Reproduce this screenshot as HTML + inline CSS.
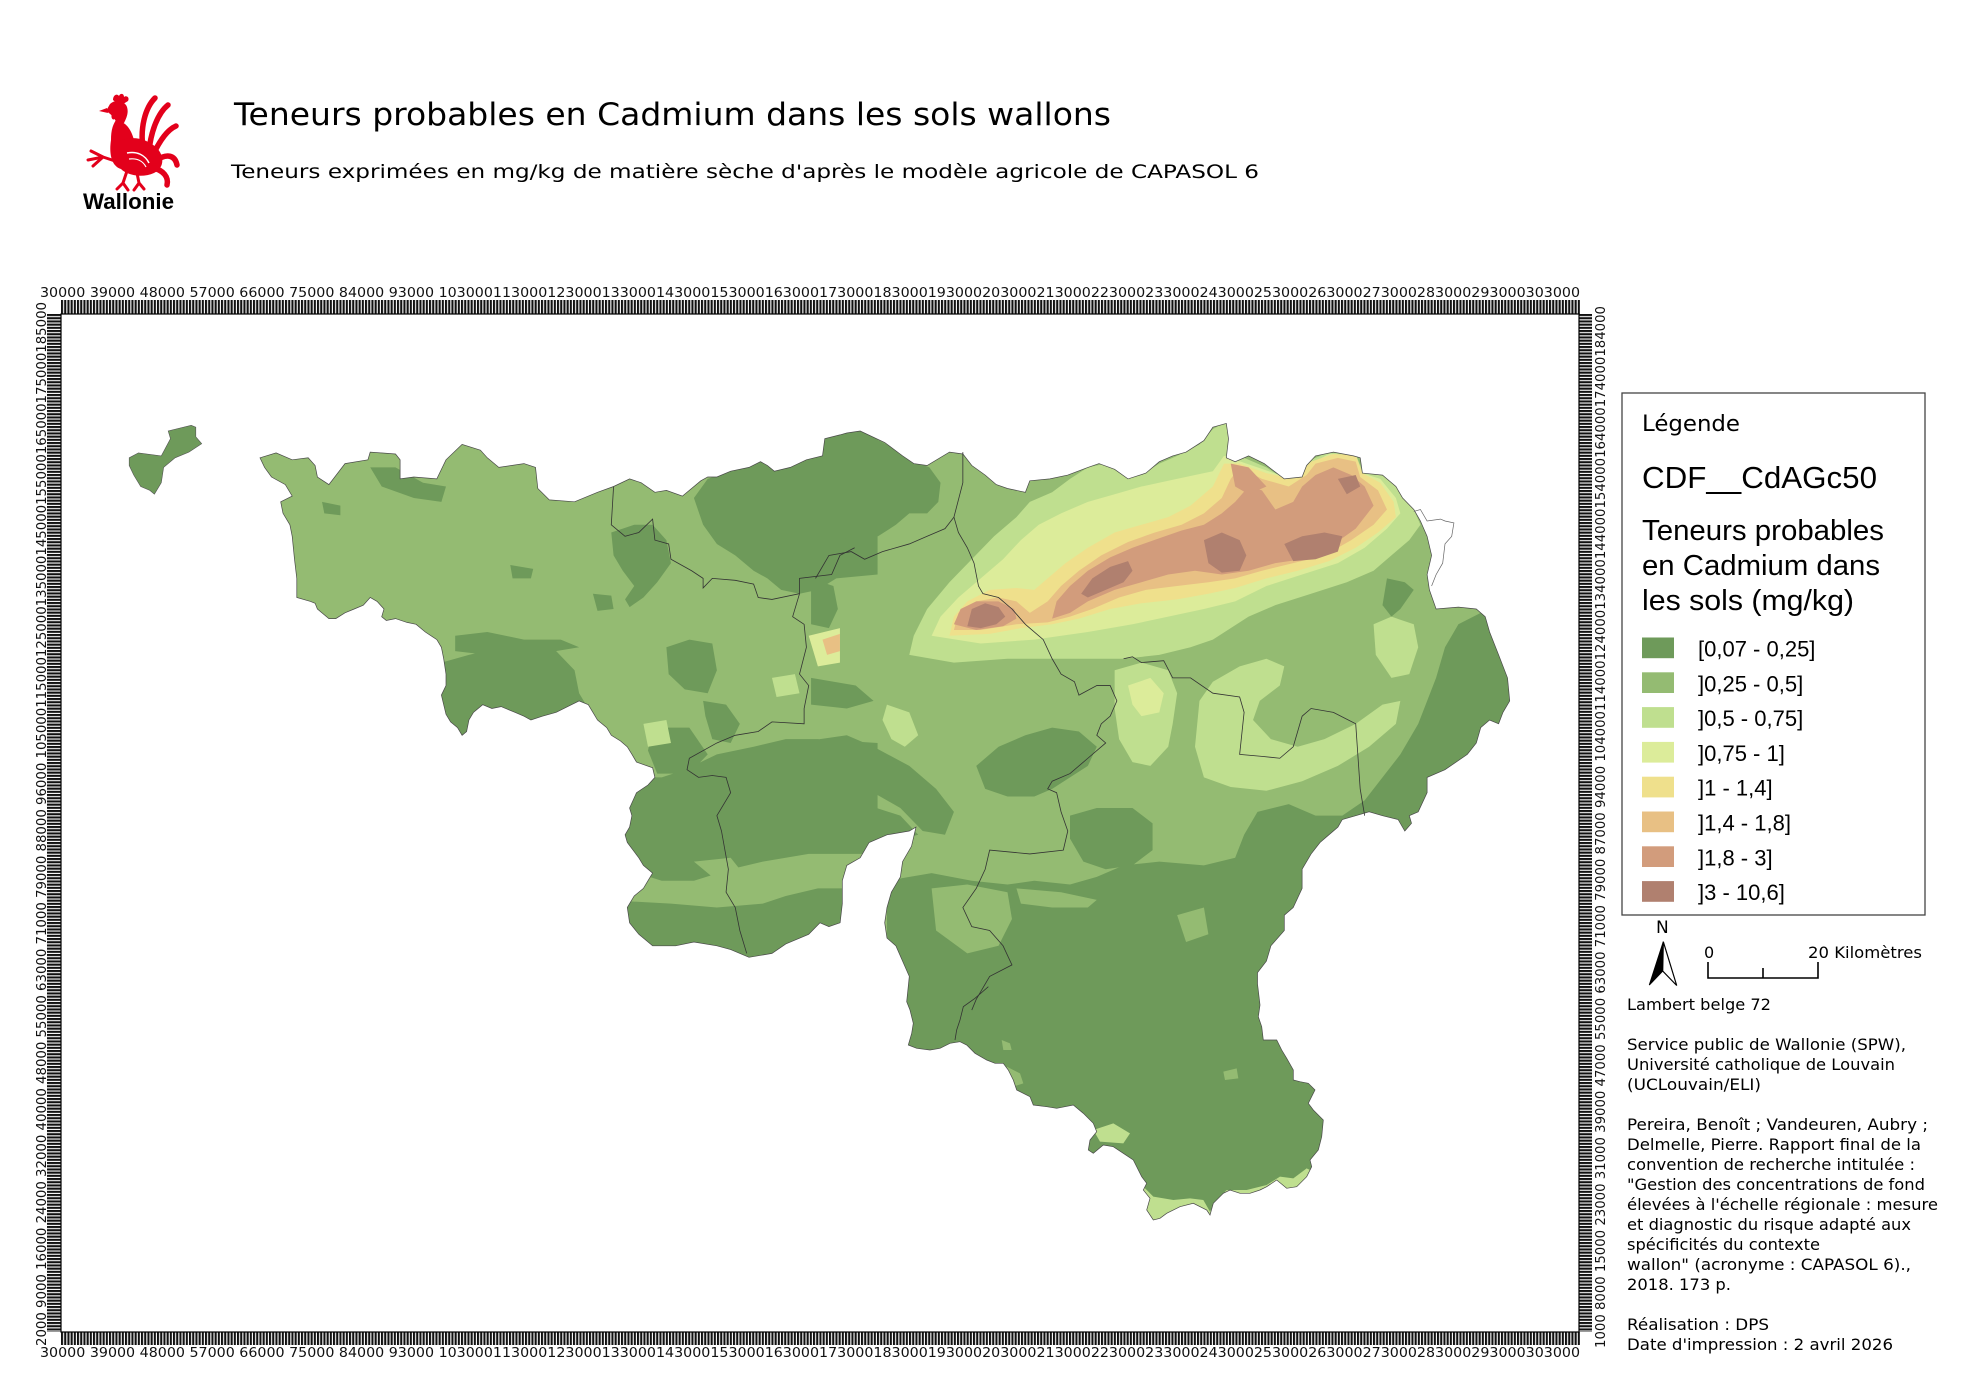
<!DOCTYPE html>
<html><head><meta charset="utf-8"><style>
html,body{margin:0;padding:0;background:#fff;}
svg{display:block;}
.dv{font-family:"DejaVu Sans","Liberation Sans",sans-serif;}
.ls{font-family:"Liberation Sans",sans-serif;}
</style></head><body>
<svg width="1980" height="1400" viewBox="0 0 1980 1400" xmlns="http://www.w3.org/2000/svg">
<defs>
<pattern id="th" x="61" y="0" width="3.2" height="20" patternUnits="userSpaceOnUse"><rect x="0" y="0" width="2.1" height="20" fill="#111"/></pattern>
<pattern id="tv" x="0" y="314" width="20" height="3.2" patternUnits="userSpaceOnUse"><rect x="0" y="0" width="20" height="2.1" fill="#111"/></pattern>
<clipPath id="wal"><path id="walp" d="M260.0,457.8 L276.1,452.9 292.2,459.8 308.2,457.8 315.1,465.5 317.4,477.0 328.9,484.6 345.0,463.6 367.9,459.8 370.2,452.1 395.5,454.0 400.1,459.8 400.1,478.9 413.9,477.0 436.8,478.9 446.0,459.8 462.1,444.4 480.4,450.2 487.3,457.8 498.8,467.4 524.0,463.6 535.5,467.4 537.8,488.5 549.3,499.9 574.5,501.8 597.5,492.3 613.6,486.5 629.6,478.9 641.1,482.7 654.9,492.3 666.4,490.4 682.4,496.1 700.8,480.8 707.7,477.0 716.9,477.0 730.7,471.2 749.0,467.4 760.5,461.7 767.4,465.5 774.3,471.2 790.3,467.4 806.4,459.8 822.5,455.9 824.8,438.7 839.9,434.9 846.8,433.0 860.2,431.0 884.7,442.5 902.6,455.9 913.8,463.6 927.1,465.5 949.5,452.1 962.9,454.0 971.8,465.5 985.2,475.1 996.3,484.6 1007.5,488.5 1025.4,492.3 1029.8,480.8 1049.9,478.9 1067.8,475.1 1087.9,467.4 1099.0,463.6 1114.6,469.3 1128.0,478.9 1145.9,473.1 1159.3,461.7 1172.7,455.9 1186.1,452.1 1203.9,440.6 1212.9,427.2 1226.3,423.4 1228.5,438.7 1226.3,457.8 1235.2,461.7 1248.6,455.9 1264.2,463.6 1284.3,478.9 1302.1,477.0 1306.6,465.5 1315.5,455.9 1333.4,452.1 1353.5,455.9 1360.2,457.8 1362.4,473.1 1382.5,475.1 1395.9,486.5 1402.6,498.0 1413.8,509.5 1420.4,521.0 1427.1,536.3 1431.6,555.4 1427.1,574.6 1429.4,589.9 1436.1,609.0 1458.4,607.1 1476.3,609.0 1485.2,616.7 1489.6,632.0 1498.6,654.9 1507.5,677.9 1509.7,700.9 1503.0,712.3 1498.6,723.8 1489.6,720.0 1480.7,727.6 1476.3,743.0 1467.3,754.4 1445.0,769.7 1427.1,777.4 1427.1,792.7 1418.2,811.8 1409.3,815.7 1411.5,823.3 1404.8,831.0 1398.1,819.5 1382.5,815.7 1369.1,811.8 1355.7,815.7 1342.3,819.5 1337.9,827.1 1328.9,834.8 1320.0,842.5 1311.1,853.9 1302.1,869.2 1302.1,888.4 1293.2,907.5 1284.3,915.2 1284.3,930.5 1270.9,945.8 1266.4,961.1 1257.5,972.6 1257.5,984.0 1260,1005 1258.3,1016.7 1261.7,1026.7 1263.3,1040 1276.7,1040 1281.7,1050 1286.7,1058.3 1293.3,1070 1293.3,1080 1300,1081.7 1308.3,1083.3 1315,1090 1313.3,1093.3 1308.3,1103.3 1313.3,1110 1320,1116.7 1323.3,1120 1321.7,1136.7 1318.3,1150 1310,1160 1311.7,1166.7 1306.7,1176.7 1296.7,1186.7 1286.7,1188.3 1276.7,1180 1266.7,1186.7 1260,1190 1250,1193.3 1240,1193.3 1230,1190 1223.3,1193.3 1213.3,1203.3 1210,1215 1206.7,1210 1193.3,1203.3 1180,1206.7 1166.7,1213.3 1160,1218.3 1153.3,1220 1146.7,1210 1150,1198.3 1143.3,1190 1146.7,1183.3 1141.7,1176.7 1133.3,1160 1123.3,1153.3 1113.3,1146.7 1103.3,1145 1093.3,1153.3 1088.3,1150 1090,1140 1096.7,1131.7 1093.3,1123.3 1083.3,1113.3 1073.3,1105 1056.7,1108.3 1046.7,1106.7 1033.3,1105 1030,1096.7 1023.3,1093.3 1016.7,1090 1013.3,1080 1008.3,1070 1003.3,1063.3 995,1063.3 986.7,1060 975,1053.3 966.7,1045 960,1041.7 950,1043.3 940,1048.3 930,1050 916.7,1048.3 908.3,1045 911.7,1033.3 913.3,1023.3 910,1010 906.7,1001.7 909.3,976.4 902.6,961.1 895.9,945.8 887.0,938.1 884.7,922.8 887.0,907.5 891.4,892.2 900.4,876.9 902.6,861.6 911.5,846.3 916.0,827.1 909.3,831.0 887.0,834.8 869.1,842.5 860.2,857.8 846.8,865.4 842.3,880.7 842.3,903.7 840.1,922.8 828.9,926.6 820,922.8 808.7,934.3 785.8,943.9 772.0,953.4 749.0,957.3 730.7,949.6 716.9,945.8 693.9,942.0 675.6,945.8 652.6,945.8 638.8,934.3 629.6,922.8 627.3,907.5 634.2,896.0 643.4,888.4 648.0,880.7 652.6,873.1 643.4,865.4 638.8,857.8 627.3,842.5 625.1,834.8 629.6,827.1 631.9,815.7 629.6,808.0 636.5,792.7 648.0,785.0 654.9,777.4 652.6,767.8 636.5,762.1 632.0,754.4 627.3,746.8 620.5,741.0 611.3,735.3 606.7,727.6 597.5,720.0 592.9,712.3 588.3,704.7 579.1,700.9 567.7,706.6 556.2,712.3 542.4,716.2 530.9,720.0 524.0,716.2 514.9,712.3 501.1,706.6 491.9,708.5 482.7,704.7 473.5,712.3 468.9,720.0 466.6,731.5 462.1,735.3 457.5,727.6 450.6,721.9 446.0,714.3 443.7,704.7 441.4,695.1 446.0,685.5 446.0,674.1 443.7,658.8 441.4,647.3 436.8,639.6 425.3,632.0 416.1,624.3 407.0,622.4 395.5,618.6 386.3,620.5 381.7,616.7 384.0,609.0 377.1,601.4 370.2,597.5 363.3,605.2 354.2,609.0 345.0,612.8 335.8,618.6 328.9,618.6 317.4,609.0 315.1,603.3 310.5,601.4 296.8,597.5 296.8,578.4 294.5,559.2 292.2,536.3 289.9,524.8 283.0,513.3 280.7,501.8 292.2,496.1 285.3,484.6 271.5,477.0 264.6,467.4 Z"/></clipPath>
</defs>

<rect width="1980" height="1400" fill="#fff"/>

<!-- Logo -->
<g transform="translate(83,93)" fill="#e3001b" stroke="none">
  <path d="M30,7 C30,2 34,0 36,3 C37,0 41,0 41,4 C43,2 47,4 45,8 L37,13 Z"/>
  <path d="M27,11 C32,6 42,8 44,14 C46,20 43,26 41,30 L34,31 C32,25 28,21 23,18 Z"/>
  <path d="M24,15 L16,18 L25,20 Z"/>
  <path d="M29,20 C27,26 31,29 33,24 Z"/>
  <path d="M33,27 C45,29 50,40 52,52 C54,63 47,73 38,76 C28,73 26,60 28,47 C28,39 29,33 33,27 Z"/>
  <path d="M36,48 C50,42 64,46 74,55 C82,64 81,75 71,80 C60,85 45,83 38,76 Z"/>
  <g fill="none" stroke="#e3001b" stroke-width="5.5" stroke-linecap="round">
    <path d="M60,56 C57,35 62,15 72,5"/>
    <path d="M66,58 C68,38 75,20 85,12"/>
    <path d="M70,62 C78,45 86,36 93,33"/>
    <path d="M72,68 C84,60 92,62 94,72"/>
    <path d="M70,75 C80,77 86,84 84,92"/>
  </g>
  <g fill="none" stroke="#e3001b" stroke-width="3" stroke-linecap="round">
    <path d="M44,78 L40,90 L34,96 M40,90 L45,97"/>
    <path d="M54,80 L56,90 L51,97 M56,90 L61,96"/>
    <path d="M38,70 L20,64 L5,67 M20,64 L8,58 M20,64 L10,73"/>
  </g>
  <path d="M44,60 C54,58 62,62 66,70" fill="none" stroke="#fff" stroke-width="1.5"/>
  <path d="M46,66 C54,65 60,68 63,74" fill="none" stroke="#fff" stroke-width="1.2"/>
</g>
<text x="83" y="209" class="ls" font-weight="bold" font-size="22.5" textLength="91" lengthAdjust="spacingAndGlyphs" fill="#000">Wallonie</text>

<!-- Titles -->
<text x="234" y="125" class="dv" font-size="31" textLength="877" lengthAdjust="spacingAndGlyphs" fill="#000">Teneurs probables en Cadmium dans les sols wallons</text>
<text x="231" y="178" class="dv" font-size="19" textLength="1028" lengthAdjust="spacingAndGlyphs" fill="#000">Teneurs exprimées en mg/kg de matière sèche d'après le modèle agricole de CAPASOL 6</text>

<!-- Tick bands -->
<rect x="61" y="300" width="1519" height="14" fill="url(#th)"/>
<rect x="61" y="1332" width="1519" height="13" fill="url(#th)"/>
<rect x="47" y="314" width="14" height="1018" fill="url(#tv)"/>
<rect x="1579" y="314" width="13" height="1018" fill="url(#tv)"/>
<rect x="61" y="314" width="1518" height="1018" fill="#fff" stroke="#000" stroke-width="1.2"/>

<!-- Tick labels -->
<text x="40" y="297" class="dv" font-size="13.5" textLength="1540" lengthAdjust="spacingAndGlyphs" fill="#111">30000 39000 48000 57000 66000 75000 84000 93000 103000113000123000133000143000153000163000173000183000193000203000213000223000233000243000253000263000273000283000293000303000</text>
<text x="40" y="1357" class="dv" font-size="13.5" textLength="1540" lengthAdjust="spacingAndGlyphs" fill="#111">30000 39000 48000 57000 66000 75000 84000 93000 103000113000123000133000143000153000163000173000183000193000203000213000223000233000243000253000263000273000283000293000303000</text>
<text transform="translate(46,1346) rotate(-90)" x="0" y="0" class="dv" font-size="13.5" textLength="1044" lengthAdjust="spacingAndGlyphs" fill="#111">2000 9000 16000 24000 32000 40000 48000 55000 63000 71000 79000 88000 96000 105000115000125000135000145000155000165000175000185000</text>
<text transform="translate(1605,1348) rotate(-90)" x="0" y="0" class="dv" font-size="13.5" textLength="1042" lengthAdjust="spacingAndGlyphs" fill="#111">1000 8000 15000 23000 31000 39000 47000 55000 63000 71000 79000 87000 94000 104000114000124000134000144000154000164000174000184000</text>

<!-- Map -->
<path d="M129.2,457.8 L138.4,452.9 161.3,455.9 170.5,438.7 168.2,431.0 191.2,425.3 195.8,427.2 195.8,436.8 201.7,443.7 188.9,452.1 175.1,457.8 163.6,467.4 161.3,482.7 154.4,494.2 149.8,490.4 140.7,486.5 133.8,475.1 129.2,465.5 Z" fill="#6e9a5a" stroke="#555" stroke-width="0.6"/>

<g clip-path="url(#wal)">
  <rect x="250" y="410" width="1280" height="820" fill="#94bb72"/>
  <!-- zoom7 coordinate system -->
  <g transform="translate(120 410) scale(0.45914 0.38270)">
    <g fill="#6e9a5a">
      <polygon points="1250,230 1280,180 1330,160 1395,135 1460,150 1530,120 1568,60 1650,60 1650,430 1560,440 1520,470 1480,480 1440,470 1410,440 1380,420 1340,380 1300,350 1270,300"/>
      <polygon points="1070,320 1120,300 1160,300 1190,340 1200,400 1170,450 1140,490 1110,515 1100,495 1120,460 1095,420 1075,380"/>
      <polygon points="700,660 760,640 830,620 900,618 950,630 990,680 1000,740 1020,780 1040,830 1000,900 650,900"/>
      <polygon points="1190,620 1240,600 1290,610 1300,680 1280,740 1230,730 1195,690"/>
      <polygon points="1270,760 1320,770 1350,820 1330,870 1290,860 1275,800"/>
      <polygon points="1160,830 1240,830 1280,900 1240,950 1170,950 1150,890"/>
      <polygon points="1100,960 1180,960 1230,940 1300,900 1380,880 1450,860 1520,860 1650,870 1650,1160 1500,1160 1400,1180 1330,1200 1250,1230 1180,1230 1100,1200 1050,1100"/>
      <polygon points="1050,1280 1200,1290 1300,1300 1400,1290 1450,1270 1520,1250 1650,1250 1650,1500 1050,1500"/>
      <polygon points="1030,480 1070,485 1075,520 1040,525"/>
      <polygon points="545,150 600,150 660,190 710,200 700,240 640,230 570,200"/>
      <polygon points="440,240 480,250 480,275 445,270"/>
      <polygon points="850,405 900,415 895,440 855,440"/>
      <polygon points="730,590 800,580 880,600 960,600 1000,620 900,640 800,640 730,630"/>
    </g>
    <polygon points="1250,1180 1330,1170 1350,1200 1290,1220" fill="#94bb72"/>
    <polygon points="1500,590 1568,570 1568,660 1520,670" fill="#dcec9a"/>
    <polygon points="1530,600 1568,585 1568,630 1540,640" fill="#e8c084"/>
    <polygon points="1420,700 1470,690 1480,740 1430,750" fill="#bfdf8f"/>
    <polygon points="1140,820 1190,810 1200,870 1150,880" fill="#bfdf8f"/>
  </g>
  <!-- south dark (original coords) -->
  <polygon points="890,985 1340,985 1340,1240 890,1240" fill="#6e9a5a"/>
  <!-- zoom8 coordinate system -->
  <g transform="translate(820 410) scale(0.44643 0.38270)">
    <g fill="#6e9a5a">
      <polygon points="-60,60 90,55 150,90 200,130 245,150 270,190 265,240 240,270 200,270 170,300 130,330 80,330 40,340 -60,340"/>
      <polygon points="350,930 400,880 460,850 520,830 580,840 620,880 600,930 560,960 520,990 480,1010 420,1010 370,990"/>
      <polygon points="560,1060 620,1040 700,1040 745,1080 745,1150 700,1190 640,1200 590,1180 560,1120"/>
      <polygon points="150,1230 250,1210 340,1230 420,1240 480,1230 560,1240 620,1220 680,1190 760,1180 860,1190 930,1170 950,1110 980,1050 1050,1030 1110,1060 1170,1060 1220,1020 1260,960 1300,900 1340,820 1380,700 1400,620 1430,560 1480,530 1650,530 1650,1650 150,1650"/>
      <polygon points="0,860 60,850 120,880 200,930 260,990 300,1050 280,1110 230,1100 180,1040 120,1000 60,990 -20,990"/>
      <polygon points="-20,440 30,460 40,520 20,570 -20,560"/>
      <polygon points="1270,440 1310,450 1330,470 1300,520 1280,540 1260,510"/>
      <polygon points="-20,700 80,720 120,760 60,780 -20,770"/>
      <polygon points="-20,1040 100,1030 180,1060 220,1110 150,1130 60,1110 -20,1120"/>
    </g>
    <g fill="#94bb72">
      <polygon points="250,1250 330,1240 420,1260 430,1330 400,1400 330,1420 260,1360"/>
      <polygon points="440,1250 540,1260 620,1280 600,1300 520,1300 450,1290"/>
      <polygon points="800,1320 860,1300 870,1370 820,1390"/>
      <polygon points="1080,1200 1120,1190 1130,1240 1090,1250"/>
    </g>
    <g fill="#bfdf8f">
      <polygon points="200,640 210,590 240,520 290,450 340,390 390,330 440,280 470,240 520,215 560,180 600,150 640,140 680,170 720,170 760,140 800,120 850,90 880,50 910,30 920,80 915,125 950,125 1000,150 1040,180 1080,170 1100,130 1150,105 1200,115 1215,160 1260,170 1300,210 1330,260 1345,300 1320,340 1280,380 1240,420 1180,450 1100,480 1020,510 960,540 920,570 880,600 830,620 760,640 680,650 560,650 420,650 300,660"/>
      <polygon points="850,760 880,710 940,670 1000,650 1040,670 1030,720 985,760 970,810 1010,860 1070,880 1130,860 1200,820 1260,770 1300,760 1290,820 1230,880 1160,930 1080,970 1000,995 920,985 860,960 840,880"/>
      <polygon points="1240,560 1280,540 1330,560 1340,620 1320,690 1280,700 1245,640"/>
      <polygon points="660,680 720,660 780,680 800,740 790,820 780,880 740,930 700,920 670,860 660,780"/>
      <polygon points="150,770 200,790 220,850 190,880 160,860 140,810"/>
    </g>
    <polygon fill="#dcec9a" points="250,590 270,540 310,490 360,440 410,390 450,340 490,300 540,270 600,240 660,220 720,200 780,185 840,170 880,160 905,120 930,130 980,150 1030,170 1070,175 1100,140 1140,115 1200,118 1215,165 1255,180 1290,230 1300,270 1270,310 1220,360 1160,400 1080,430 1000,460 930,500 860,520 780,540 700,560 600,580 480,600 360,610"/>
    <polygon fill="#dcec9a" points="690,720 740,700 770,740 760,790 720,800 700,770"/>
    <polygon fill="#efe08c" points="290,590 300,540 330,500 380,470 440,465 480,470 510,440 550,400 600,360 660,320 720,300 780,280 830,250 880,200 905,140 940,140 1000,165 1060,180 1100,135 1150,115 1200,118 1215,165 1255,190 1285,240 1290,280 1250,320 1200,360 1140,395 1070,420 1000,440 930,465 870,480 800,495 720,505 650,520 580,545 520,560 450,570 380,585"/>
    <polygon fill="#e8c084" points="300,575 310,530 350,500 400,490 440,500 470,530 510,500 540,460 580,420 630,380 690,345 750,320 810,300 860,270 900,230 920,180 940,150 990,180 1050,200 1090,170 1110,140 1160,125 1200,135 1210,175 1250,210 1270,260 1240,300 1190,340 1130,380 1060,400 990,420 930,440 870,450 800,460 730,470 670,490 610,520 560,540 510,555 440,560 360,575"/>
    <g fill="#d29c7c">
      <polygon points="300,560 315,520 350,500 400,500 435,520 440,545 410,565 350,575"/>
      <polygon points="520,545 530,500 560,460 600,420 650,385 700,360 760,335 810,315 860,300 900,270 930,240 960,200 990,210 1020,260 1060,240 1080,200 1110,170 1150,150 1190,170 1220,200 1240,250 1200,310 1140,360 1080,390 1020,400 960,420 900,430 840,420 780,430 720,450 660,470 600,500 560,530"/>
      <polygon points="920,140 960,150 1000,200 960,220 930,200"/>
    </g>
    <g fill="#b0806f">
      <polygon points="330,565 340,520 370,505 400,515 415,540 395,560 360,570"/>
      <polygon points="585,480 610,440 650,410 690,395 700,420 680,450 640,470 600,490"/>
      <polygon points="860,340 900,320 940,340 955,380 940,420 900,425 870,400"/>
      <polygon points="1040,350 1080,330 1130,320 1170,330 1160,370 1110,390 1060,395"/>
      <polygon points="1160,180 1200,170 1210,200 1180,220"/>
    </g>
  </g>
  <!-- zoom11 coordinate system -->
  <g transform="translate(860 990) scale(0.33333 0.33333)">
    <polygon fill="#bfdf8f" points="850,590 880,620 940,630 990,625 1030,630 1050,665 1070,630 1100,600 1160,600 1220,585 1260,560 1300,565 1340,535 1360,545 1330,600 1280,610 1200,625 1080,660 1050,700 900,705 860,700"/>
    <polygon fill="#bfdf8f" points="700,420 760,400 810,430 790,460 720,455"/>
    <polygon fill="#94bb72" points="440,230 480,250 490,280 460,290 445,260"/>
    <polygon fill="#94bb72" points="1090,245 1130,235 1135,265 1095,270"/>
    <polygon fill="#94bb72" points="425,150 450,160 455,180 430,180"/>
  </g>
</g>
<!-- Map outline and borders -->
<use href="#walp" fill="none" stroke="#4a4a4a" stroke-width="0.7"/>
<path d="M1413.8,511.4 L1420.4,509.5 1427.1,521.0 1440.5,519.1 1445.0,521.0 1453.9,522.9 1451.7,536.3 1445.0,543.9 1442.7,563.1 1436.1,574.6 1431.6,586.0" fill="none" stroke="#666" stroke-width="0.7"/>
<g fill="none" stroke="#333" stroke-width="0.8">
  <g transform="translate(120 410) scale(0.45914 0.38270)">
    <polyline vector-effect="non-scaling-stroke" points="1075,200 1070,300 1100,330 1130,320 1160,285 1165,340 1195,350 1200,390 1245,420 1270,440 1270,465 1290,440 1340,445 1380,455 1390,490 1420,495 1480,480 1480,440 1550,430 1568,380 1600,360"/>
    <polyline vector-effect="non-scaling-stroke" points="1480,480 1465,540 1490,560 1495,620 1480,690 1500,720 1490,780 1490,820 1420,815 1390,840 1340,850 1300,870 1240,910 1235,940 1260,960 1290,955 1320,960 1330,1000 1300,1060 1310,1100 1325,1200 1320,1260 1340,1300 1350,1360 1365,1420"/>
  </g>
  <g transform="translate(820 410) scale(0.44643 0.38270)">
    <polyline vector-effect="non-scaling-stroke" points="320,110 320,190 300,280 310,320 330,360 345,400 355,460 365,480 400,490 430,520 460,560 500,600 520,650 540,690 570,710 580,745 620,720 650,720 665,760 650,800 630,820 620,850 640,870 600,910 560,950 520,970 510,990 530,1000 540,1050 555,1100 545,1150 470,1160 380,1150 370,1200 350,1250 320,1300 340,1350 380,1360 410,1400 430,1450 380,1480 350,1540 340,1568"/>
    <polyline vector-effect="non-scaling-stroke" points="-10,440 20,380 70,370 100,390 140,370 200,350 240,330 280,310 300,280"/>
    <polyline vector-effect="non-scaling-stroke" points="680,650 700,645 720,660 770,655 790,700 830,700 880,740 940,750 950,790 940,900 990,905 1030,910 1060,880 1080,800 1100,780 1150,790 1200,820 1210,990 1220,1060"/>
  </g>
  <g transform="translate(860 990) scale(0.33333 0.33333)">
    <polyline vector-effect="non-scaling-stroke" points="385,-10 345,25 310,50 300,90 290,120 285,150"/>
  </g>
</g>

<!-- Legend -->
<rect x="1622" y="393" width="303" height="522" fill="#fff" stroke="#444" stroke-width="1.3"/>
<text x="1642" y="431" class="dv" font-size="22" textLength="98" lengthAdjust="spacingAndGlyphs" fill="#000">Légende</text>
<text x="1642" y="488" class="ls" font-size="31" textLength="235" lengthAdjust="spacingAndGlyphs" fill="#000">CDF__CdAGc50</text>
<text x="1642" y="540" class="ls" font-size="29" textLength="242" lengthAdjust="spacingAndGlyphs" fill="#000">Teneurs probables</text>
<text x="1642" y="575" class="ls" font-size="29" textLength="238" lengthAdjust="spacingAndGlyphs" fill="#000">en Cadmium dans</text>
<text x="1642" y="610" class="ls" font-size="29" textLength="212" lengthAdjust="spacingAndGlyphs" fill="#000">les sols (mg/kg)</text>
<g>
  <rect x="1642" y="637.5" width="32" height="20.7" fill="#6e9a5a"/>
  <rect x="1642" y="672.3" width="32" height="20.7" fill="#94bb72"/>
  <rect x="1642" y="707.1" width="32" height="20.7" fill="#bfdf8f"/>
  <rect x="1642" y="741.9" width="32" height="20.7" fill="#dcec9a"/>
  <rect x="1642" y="776.7" width="32" height="20.7" fill="#efe08c"/>
  <rect x="1642" y="811.5" width="32" height="20.7" fill="#e8c084"/>
  <rect x="1642" y="846.3" width="32" height="20.7" fill="#d29c7c"/>
  <rect x="1642" y="881.1" width="32" height="20.7" fill="#b0806f"/>
</g>
<g class="ls" font-size="22" fill="#000">
  <text x="1698" y="656.5">[0,07 - 0,25]</text>
  <text x="1698" y="691.3">]0,25 - 0,5]</text>
  <text x="1698" y="726.1">]0,5 - 0,75]</text>
  <text x="1698" y="760.9">]0,75 - 1]</text>
  <text x="1698" y="795.7">]1 - 1,4]</text>
  <text x="1698" y="830.5">]1,4 - 1,8]</text>
  <text x="1698" y="865.3">]1,8 - 3]</text>
  <text x="1698" y="900.1">]3 - 10,6]</text>
</g>

<!-- North arrow & scale -->
<text x="1656" y="933" class="dv" font-size="17" fill="#000">N</text>
<path d="M1663.3,941.7 L1649.3,985 L1662.7,971 Z" fill="#000"/>
<path d="M1663.3,941.7 L1676.7,985.5 L1662.7,971 Z" fill="#fff" stroke="#000" stroke-width="1.2" stroke-linejoin="miter"/>
<path d="M1663.3,941.7 L1649.3,985 L1662.7,971" fill="none" stroke="#000" stroke-width="1"/>
<text x="1704" y="958" class="dv" font-size="16" fill="#000">0</text>
<text x="1808" y="958" class="dv" font-size="16" textLength="114" lengthAdjust="spacingAndGlyphs" fill="#000">20 Kilomètres</text>
<path d="M1708,962 L1708,978 L1818,978 L1818,962 M1763,968 L1763,978" fill="none" stroke="#000" stroke-width="1.6"/>

<!-- Credits -->
<g class="dv" font-size="16" fill="#000">
  <text x="1627" y="1010" textLength="144" lengthAdjust="spacingAndGlyphs">Lambert belge 72</text>
  <text x="1627" y="1050" textLength="279" lengthAdjust="spacingAndGlyphs">Service public de Wallonie (SPW),</text>
  <text x="1627" y="1070" textLength="268" lengthAdjust="spacingAndGlyphs">Université catholique de Louvain</text>
  <text x="1627" y="1090" textLength="134" lengthAdjust="spacingAndGlyphs">(UCLouvain/ELI)</text>
  <text x="1627" y="1130" textLength="301" lengthAdjust="spacingAndGlyphs">Pereira, Benoît ; Vandeuren, Aubry ;</text>
  <text x="1627" y="1150" textLength="294" lengthAdjust="spacingAndGlyphs">Delmelle, Pierre. Rapport final de la</text>
  <text x="1627" y="1170" textLength="288" lengthAdjust="spacingAndGlyphs">convention de recherche intitulée :</text>
  <text x="1627" y="1190" textLength="298" lengthAdjust="spacingAndGlyphs">"Gestion des concentrations de fond</text>
  <text x="1627" y="1210" textLength="311" lengthAdjust="spacingAndGlyphs">élevées à l'échelle régionale : mesure</text>
  <text x="1627" y="1230" textLength="284" lengthAdjust="spacingAndGlyphs">et diagnostic du risque adapté aux</text>
  <text x="1627" y="1250" textLength="193" lengthAdjust="spacingAndGlyphs">spécificités du contexte</text>
  <text x="1627" y="1270" textLength="284" lengthAdjust="spacingAndGlyphs">wallon" (acronyme : CAPASOL 6).,</text>
  <text x="1627" y="1290" textLength="104" lengthAdjust="spacingAndGlyphs">2018. 173 p.</text>
  <text x="1627" y="1330" textLength="142" lengthAdjust="spacingAndGlyphs">Réalisation : DPS</text>
  <text x="1627" y="1350" textLength="266" lengthAdjust="spacingAndGlyphs">Date d'impression : 2 avril 2026</text>
</g>
</svg>
</body></html>
